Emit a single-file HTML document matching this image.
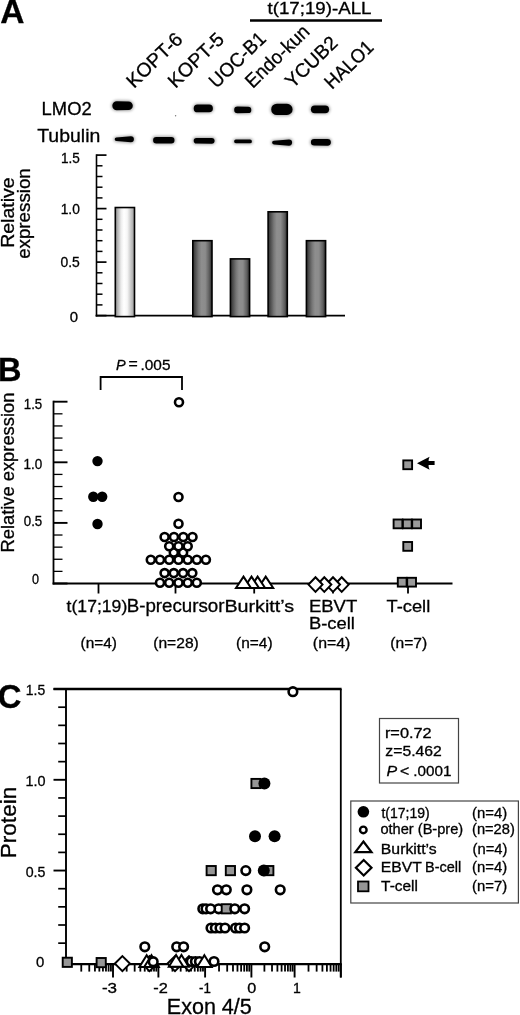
<!DOCTYPE html>
<html><head><meta charset="utf-8"><style>
html,body{margin:0;padding:0;background:#fff;overflow:hidden;}
svg{display:block;will-change:transform;}
text{font-family:"Liberation Sans",sans-serif;stroke:#000;stroke-width:0.3px;}
</style></head><body>
<svg width="520" height="1015" viewBox="0 0 520 1015">
<defs>
<filter id="blur1" x="-20%" y="-50%" width="140%" height="200%"><feGaussianBlur stdDeviation="0.75"/></filter>
<filter id="blur2" x="-30%" y="-80%" width="160%" height="260%"><feGaussianBlur stdDeviation="1.5"/></filter>
<linearGradient id="gl" x1="0" x2="1" y1="0" y2="0">
<stop offset="0" stop-color="#8c8c8c"/><stop offset="0.3" stop-color="#ececec"/><stop offset="0.45" stop-color="#ffffff"/><stop offset="0.62" stop-color="#f6f6f6"/><stop offset="1" stop-color="#9a9a9a"/></linearGradient>
<linearGradient id="gd" x1="0" x2="1" y1="0" y2="0">
<stop offset="0" stop-color="#2e2e2e"/><stop offset="0.3" stop-color="#777"/><stop offset="0.45" stop-color="#8e8e8e"/><stop offset="0.65" stop-color="#8c8c8c"/><stop offset="0.85" stop-color="#606060"/><stop offset="1" stop-color="#2a2a2a"/></linearGradient>
</defs>
<rect width="520" height="1015" fill="#fff"/>
<text x="0.2" y="23.3" font-size="33.5" font-weight="bold" fill="#000">A</text>
<text x="267.5" y="13.5" font-size="16.2" textLength="104" lengthAdjust="spacingAndGlyphs" fill="#000">t(17;19)-ALL</text>
<line x1="250" y1="20.5" x2="382" y2="20.5" stroke="#000" stroke-width="2.4"/>
<text x="0" y="0" font-size="19.5" transform="translate(134.00,88.90) rotate(-44)" fill="#000">KOPT-6</text>
<text x="0" y="0" font-size="19.5" transform="translate(175.50,88.90) rotate(-44)" fill="#000">KOPT-5</text>
<text x="0" y="0" font-size="19.5" textLength="70.5" lengthAdjust="spacingAndGlyphs" transform="translate(216.50,88.90) rotate(-44)" fill="#000">UOC-B1</text>
<text x="0" y="0" font-size="19.5" textLength="80.5" lengthAdjust="spacingAndGlyphs" transform="translate(252.80,88.90) rotate(-44)" fill="#000">Endo-kun</text>
<text x="0" y="0" font-size="19.5" textLength="64.0" lengthAdjust="spacingAndGlyphs" transform="translate(292.80,88.90) rotate(-44)" fill="#000">YCUB2</text>
<text x="0" y="0" font-size="19.5" textLength="59.5" lengthAdjust="spacingAndGlyphs" transform="translate(332.00,90.10) rotate(-44)" fill="#000">HALO1</text>
<text x="41.63" y="115.2" font-size="18.0" textLength="50.05" lengthAdjust="spacingAndGlyphs" fill="#000">LMO2</text>
<text x="37.21" y="142.4" font-size="18.5" textLength="63.11" lengthAdjust="spacingAndGlyphs" fill="#000">Tubulin</text>
<g filter="url(#blur2)" opacity="0.35">
<path d="M116.70 100.30 L128.60 100.50 A5.2 5.2 0 0 1 128.60 110.90 L116.70 111.10 A5.4 5.4 0 0 1 116.70 100.30 Z" fill="#000"/>
<path d="M197.50 103.60 L209.20 103.70 A4.7 4.7 0 0 1 209.20 113.10 L197.50 113.20 A4.8 4.8 0 0 1 197.50 103.60 Z" fill="#000"/>
<path d="M237.40 105.70 L248.20 105.80 A4.1 4.1 0 0 1 248.20 114.00 L237.40 114.10 A4.2 4.2 0 0 1 237.40 105.70 Z" fill="#000"/>
<path d="M276.80 102.80 L287.10 102.90 A6.5 6.5 0 0 1 287.10 115.90 L276.80 116.00 A6.6 6.6 0 0 1 276.80 102.80 Z" fill="#000"/>
<path d="M314.70 104.50 L325.30 104.50 A4.8 4.8 0 0 1 325.30 114.10 L314.70 114.10 A4.8 4.8 0 0 1 314.70 104.50 Z" fill="#000"/>
<path d="M116.30 136.70 L131.00 135.40 A3.9 3.9 0 0 1 131.00 143.20 L116.30 141.90 A2.6 2.6 0 0 1 116.30 136.70 Z" fill="#000"/>
<path d="M156.20 136.10 L171.40 136.10 A4.1 4.1 0 0 1 171.40 144.30 L156.20 144.30 A4.1 4.1 0 0 1 156.20 136.10 Z" fill="#000"/>
<path d="M196.40 137.10 L211.80 137.00 A3.8 3.8 0 0 1 211.80 144.60 L196.40 144.50 A3.7 3.7 0 0 1 196.40 137.10 Z" fill="#000"/>
<path d="M235.80 138.70 L250.10 138.60 A2.8 2.8 0 0 1 250.10 144.20 L235.80 144.10 A2.7 2.7 0 0 1 235.80 138.70 Z" fill="#000"/>
<path d="M273.80 139.90 L289.10 138.60 A4.0 4.0 0 0 1 289.10 146.60 L273.80 145.30 A2.7 2.7 0 0 1 273.80 139.90 Z" fill="#000"/>
<path d="M314.10 138.10 L327.60 138.00 A4.3 4.3 0 0 1 327.60 146.60 L314.10 146.50 A4.2 4.2 0 0 1 314.10 138.10 Z" fill="#000"/>
</g>
<g filter="url(#blur1)">
<path d="M116.80 101.20 L128.50 101.40 A4.3 4.3 0 0 1 128.50 110.00 L116.80 110.20 A4.5 4.5 0 0 1 116.80 101.20 Z" fill="#000"/>
<path d="M197.60 104.50 L209.10 104.60 A3.8000000000000003 3.8000000000000003 0 0 1 209.10 112.20 L197.60 112.30 A3.9 3.9 0 0 1 197.60 104.50 Z" fill="#000"/>
<path d="M237.50 106.60 L248.10 106.70 A3.2 3.2 0 0 1 248.10 113.10 L237.50 113.20 A3.3000000000000003 3.3000000000000003 0 0 1 237.50 106.60 Z" fill="#000"/>
<path d="M276.90 103.70 L287.00 103.80 A5.6 5.6 0 0 1 287.00 115.00 L276.90 115.10 A5.699999999999999 5.699999999999999 0 0 1 276.90 103.70 Z" fill="#000"/>
<path d="M314.80 105.40 L325.20 105.40 A3.9 3.9 0 0 1 325.20 113.20 L314.80 113.20 A3.9 3.9 0 0 1 314.80 105.40 Z" fill="#000"/>
<path d="M116.40 137.60 L130.90 136.30 A3.0 3.0 0 0 1 130.90 142.30 L116.40 141.00 A1.7000000000000002 1.7000000000000002 0 0 1 116.40 137.60 Z" fill="#000"/>
<path d="M156.30 137.00 L171.30 137.00 A3.2 3.2 0 0 1 171.30 143.40 L156.30 143.40 A3.2 3.2 0 0 1 156.30 137.00 Z" fill="#000"/>
<path d="M196.50 138.00 L211.70 137.90 A2.9 2.9 0 0 1 211.70 143.70 L196.50 143.60 A2.8000000000000003 2.8000000000000003 0 0 1 196.50 138.00 Z" fill="#000"/>
<path d="M235.90 139.60 L250.00 139.50 A1.9 1.9 0 0 1 250.00 143.30 L235.90 143.20 A1.7999999999999998 1.7999999999999998 0 0 1 235.90 139.60 Z" fill="#000"/>
<path d="M273.90 140.80 L289.00 139.50 A3.1 3.1 0 0 1 289.00 145.70 L273.90 144.40 A1.7999999999999998 1.7999999999999998 0 0 1 273.90 140.80 Z" fill="#000"/>
<path d="M314.20 139.00 L327.50 138.90 A3.4 3.4 0 0 1 327.50 145.70 L314.20 145.60 A3.3000000000000003 3.3000000000000003 0 0 1 314.20 139.00 Z" fill="#000"/>
</g>
<circle cx="175.6" cy="115.7" r="0.7" fill="#777"/>
<line x1="96.5" y1="154.3" x2="96.5" y2="316.6" stroke="#000" stroke-width="1.6"/>
<line x1="96.5" y1="315.6" x2="106.5" y2="315.6" stroke="#000" stroke-width="1.7"/>
<line x1="96.5" y1="304.90000000000003" x2="102.5" y2="304.90000000000003" stroke="#000" stroke-width="1.5"/>
<line x1="96.5" y1="294.20000000000005" x2="102.5" y2="294.20000000000005" stroke="#000" stroke-width="1.5"/>
<line x1="96.5" y1="283.5" x2="102.5" y2="283.5" stroke="#000" stroke-width="1.5"/>
<line x1="96.5" y1="272.8" x2="102.5" y2="272.8" stroke="#000" stroke-width="1.5"/>
<line x1="96.5" y1="262.1" x2="106.5" y2="262.1" stroke="#000" stroke-width="1.7"/>
<line x1="96.5" y1="251.40000000000003" x2="102.5" y2="251.40000000000003" stroke="#000" stroke-width="1.5"/>
<line x1="96.5" y1="240.70000000000002" x2="102.5" y2="240.70000000000002" stroke="#000" stroke-width="1.5"/>
<line x1="96.5" y1="230.0" x2="102.5" y2="230.0" stroke="#000" stroke-width="1.5"/>
<line x1="96.5" y1="219.3" x2="102.5" y2="219.3" stroke="#000" stroke-width="1.5"/>
<line x1="96.5" y1="208.60000000000002" x2="106.5" y2="208.60000000000002" stroke="#000" stroke-width="1.7"/>
<line x1="96.5" y1="197.90000000000003" x2="102.5" y2="197.90000000000003" stroke="#000" stroke-width="1.5"/>
<line x1="96.5" y1="187.20000000000002" x2="102.5" y2="187.20000000000002" stroke="#000" stroke-width="1.5"/>
<line x1="96.5" y1="176.50000000000003" x2="102.5" y2="176.50000000000003" stroke="#000" stroke-width="1.5"/>
<line x1="96.5" y1="165.8" x2="102.5" y2="165.8" stroke="#000" stroke-width="1.5"/>
<line x1="96.5" y1="155.10000000000002" x2="106.5" y2="155.10000000000002" stroke="#000" stroke-width="1.7"/>
<line x1="95.6" y1="315.6" x2="345" y2="315.6" stroke="#000" stroke-width="1.8"/>
<text x="60.98" y="162.8" font-size="14" textLength="18.86" lengthAdjust="spacingAndGlyphs" fill="#000">1.5</text>
<text x="60.66" y="214.4" font-size="14" textLength="19.19" lengthAdjust="spacingAndGlyphs" fill="#000">1.0</text>
<text x="60.54" y="267" font-size="14" textLength="19.31" lengthAdjust="spacingAndGlyphs" fill="#000">0.5</text>
<text x="69.7" y="321.9" font-size="14" textLength="8.31" lengthAdjust="spacingAndGlyphs" fill="#000">0</text>
<text x="0" y="0" font-size="18.6" textLength="70.5" lengthAdjust="spacingAndGlyphs" transform="translate(14.0,247.86) rotate(-90)">Relative</text>
<text x="0" y="0" font-size="18.6" textLength="90.58" lengthAdjust="spacingAndGlyphs" transform="translate(29.6,258.84) rotate(-90)">expression</text>
<rect x="115.30000000000001" y="207.53000000000003" width="19.2" height="109.07" fill="url(#gl)" stroke="#000" stroke-width="1.6"/>
<rect x="192.8" y="240.70000000000005" width="19.2" height="75.89999999999998" fill="url(#gd)" stroke="#000" stroke-width="1.6"/>
<rect x="230.4" y="258.89000000000004" width="19.2" height="57.70999999999998" fill="url(#gd)" stroke="#000" stroke-width="1.6"/>
<rect x="268.09999999999997" y="211.81000000000003" width="19.2" height="104.78999999999999" fill="url(#gd)" stroke="#000" stroke-width="1.6"/>
<rect x="306.4" y="240.70000000000005" width="19.2" height="75.89999999999998" fill="url(#gd)" stroke="#000" stroke-width="1.6"/>
<text x="-2" y="380.7" font-size="32.5" font-weight="bold" fill="#000">B</text>
<text x="116.06" y="369.5" font-size="14.5" font-style="italic" fill="#000">P</text>
<text x="128.61" y="368.5" font-size="14.5" textLength="9.27" lengthAdjust="spacingAndGlyphs" fill="#000">=</text>
<text x="140.52" y="369.5" font-size="14.5" textLength="29.92" lengthAdjust="spacingAndGlyphs" fill="#000">.005</text>
<path d="M100.6 390 V377 H182 V390" fill="none" stroke="#000" stroke-width="1.8"/>
<line x1="53.5" y1="400.7" x2="53.5" y2="584.5" stroke="#000" stroke-width="1.8"/>
<line x1="53.5" y1="583.5" x2="67.5" y2="583.5" stroke="#000" stroke-width="1.9"/>
<line x1="53.5" y1="571.38" x2="62.5" y2="571.38" stroke="#000" stroke-width="1.3"/>
<line x1="53.5" y1="559.26" x2="62.5" y2="559.26" stroke="#000" stroke-width="1.3"/>
<line x1="53.5" y1="547.14" x2="62.5" y2="547.14" stroke="#000" stroke-width="1.3"/>
<line x1="53.5" y1="535.02" x2="62.5" y2="535.02" stroke="#000" stroke-width="1.3"/>
<line x1="53.5" y1="522.9" x2="67.5" y2="522.9" stroke="#000" stroke-width="1.9"/>
<line x1="53.5" y1="510.78" x2="62.5" y2="510.78" stroke="#000" stroke-width="1.3"/>
<line x1="53.5" y1="498.65999999999997" x2="62.5" y2="498.65999999999997" stroke="#000" stroke-width="1.3"/>
<line x1="53.5" y1="486.53999999999996" x2="62.5" y2="486.53999999999996" stroke="#000" stroke-width="1.3"/>
<line x1="53.5" y1="474.42" x2="62.5" y2="474.42" stroke="#000" stroke-width="1.3"/>
<line x1="53.5" y1="462.3" x2="67.5" y2="462.3" stroke="#000" stroke-width="1.9"/>
<line x1="53.5" y1="450.17999999999995" x2="62.5" y2="450.17999999999995" stroke="#000" stroke-width="1.3"/>
<line x1="53.5" y1="438.05999999999995" x2="62.5" y2="438.05999999999995" stroke="#000" stroke-width="1.3"/>
<line x1="53.5" y1="425.94" x2="62.5" y2="425.94" stroke="#000" stroke-width="1.3"/>
<line x1="53.5" y1="413.82" x2="62.5" y2="413.82" stroke="#000" stroke-width="1.3"/>
<line x1="53.5" y1="401.7" x2="67.5" y2="401.7" stroke="#000" stroke-width="1.9"/>
<line x1="52.6" y1="583.5" x2="452.5" y2="583.5" stroke="#000" stroke-width="1.8"/>
<text x="23.81" y="409.4" font-size="14" textLength="18.43" lengthAdjust="spacingAndGlyphs" fill="#000">1.5</text>
<text x="23.49" y="468.5" font-size="14" textLength="18.75" lengthAdjust="spacingAndGlyphs" fill="#000">1.0</text>
<text x="23.77" y="525.6" font-size="14" textLength="18.46" lengthAdjust="spacingAndGlyphs" fill="#000">0.5</text>
<text x="31.99" y="584.2" font-size="14" textLength="7.03" lengthAdjust="spacingAndGlyphs" fill="#000">0</text>
<text x="0" y="0" font-size="18.3" textLength="159.79" lengthAdjust="spacingAndGlyphs" transform="translate(14.4,552.46) rotate(-90)">Relative expression</text>
<line x1="98.5" y1="583.5" x2="98.5" y2="593.5" stroke="#000" stroke-width="1.8"/>
<line x1="175.5" y1="583.5" x2="175.5" y2="593.5" stroke="#000" stroke-width="1.8"/>
<line x1="254.2" y1="583.5" x2="254.2" y2="593.5" stroke="#000" stroke-width="1.8"/>
<line x1="333" y1="583.5" x2="333" y2="593.5" stroke="#000" stroke-width="1.8"/>
<line x1="408" y1="583.5" x2="408" y2="593.5" stroke="#000" stroke-width="1.8"/>
<circle cx="97.5" cy="461.1" r="5.2" fill="#000"/>
<circle cx="93.3" cy="496.7" r="5.2" fill="#000"/>
<circle cx="102.2" cy="496.7" r="5.2" fill="#000"/>
<circle cx="97.5" cy="524.0" r="5.2" fill="#000"/>
<circle cx="179" cy="402.3" r="4.0" fill="#fff" stroke="#000" stroke-width="2.6"/>
<circle cx="178.5" cy="497" r="4.0" fill="#fff" stroke="#000" stroke-width="2.6"/>
<circle cx="178.5" cy="523.8" r="4.0" fill="#fff" stroke="#000" stroke-width="2.6"/>
<circle cx="164.6" cy="537" r="4.0" fill="#fff" stroke="#000" stroke-width="2.6"/>
<circle cx="174" cy="537" r="4.0" fill="#fff" stroke="#000" stroke-width="2.6"/>
<circle cx="183.3" cy="537" r="4.0" fill="#fff" stroke="#000" stroke-width="2.6"/>
<circle cx="192.5" cy="537" r="4.0" fill="#fff" stroke="#000" stroke-width="2.6"/>
<circle cx="173.8" cy="552.5" r="4.0" fill="#fff" stroke="#000" stroke-width="2.6"/>
<circle cx="183.1" cy="552.5" r="4.0" fill="#fff" stroke="#000" stroke-width="2.6"/>
<circle cx="169.2" cy="546.3" r="4.0" fill="#fff" stroke="#000" stroke-width="2.6"/>
<circle cx="178.5" cy="546.3" r="4.0" fill="#fff" stroke="#000" stroke-width="2.6"/>
<circle cx="187.7" cy="546.3" r="4.0" fill="#fff" stroke="#000" stroke-width="2.6"/>
<circle cx="150.8" cy="559.7" r="4.0" fill="#fff" stroke="#000" stroke-width="2.6"/>
<circle cx="160" cy="559.7" r="4.0" fill="#fff" stroke="#000" stroke-width="2.6"/>
<circle cx="169.2" cy="559.7" r="4.0" fill="#fff" stroke="#000" stroke-width="2.6"/>
<circle cx="178.5" cy="559.7" r="4.0" fill="#fff" stroke="#000" stroke-width="2.6"/>
<circle cx="187.7" cy="559.7" r="4.0" fill="#fff" stroke="#000" stroke-width="2.6"/>
<circle cx="196.9" cy="559.7" r="4.0" fill="#fff" stroke="#000" stroke-width="2.6"/>
<circle cx="205.9" cy="559.7" r="4.0" fill="#fff" stroke="#000" stroke-width="2.6"/>
<circle cx="164.6" cy="573.1" r="4.0" fill="#fff" stroke="#000" stroke-width="2.6"/>
<circle cx="173.8" cy="573.1" r="4.0" fill="#fff" stroke="#000" stroke-width="2.6"/>
<circle cx="183.1" cy="573.1" r="4.0" fill="#fff" stroke="#000" stroke-width="2.6"/>
<circle cx="192.3" cy="573.1" r="4.0" fill="#fff" stroke="#000" stroke-width="2.6"/>
<circle cx="160" cy="582.8" r="4.0" fill="#fff" stroke="#000" stroke-width="2.6"/>
<circle cx="169.2" cy="582.8" r="4.0" fill="#fff" stroke="#000" stroke-width="2.6"/>
<circle cx="178.5" cy="582.8" r="4.0" fill="#fff" stroke="#000" stroke-width="2.6"/>
<circle cx="187.7" cy="582.8" r="4.0" fill="#fff" stroke="#000" stroke-width="2.6"/>
<circle cx="196.8" cy="582.8" r="4.0" fill="#fff" stroke="#000" stroke-width="2.6"/>
<path d="M265.7 576.6 L273.2 588 L258.2 588 Z" fill="#fff" stroke="#000" stroke-width="2" stroke-linejoin="miter"/>
<path d="M257.6 576.6 L265.1 588 L250.10000000000002 588 Z" fill="#fff" stroke="#000" stroke-width="2" stroke-linejoin="miter"/>
<path d="M251.5 576.6 L259.0 588 L244.0 588 Z" fill="#fff" stroke="#000" stroke-width="2" stroke-linejoin="miter"/>
<path d="M243.5 576.6 L251.0 588 L236.0 588 Z" fill="#fff" stroke="#000" stroke-width="2" stroke-linejoin="miter"/>
<path d="M341.7 577.3 L348.7 584.6 L341.7 591.9 L334.7 584.6 Z" fill="#fff" stroke="#000" stroke-width="2"/>
<path d="M333 577.3 L340 584.6 L333 591.9 L326 584.6 Z" fill="#fff" stroke="#000" stroke-width="2"/>
<path d="M324.3 577.3 L331.3 584.6 L324.3 591.9 L317.3 584.6 Z" fill="#fff" stroke="#000" stroke-width="2"/>
<path d="M315.5 577.3 L322.5 584.6 L315.5 591.9 L308.5 584.6 Z" fill="#fff" stroke="#000" stroke-width="2"/>
<rect x="403.3" y="460.40000000000003" width="8.8" height="8.8" fill="#9a9a9a" stroke="#000" stroke-width="1.9"/>
<rect x="393.6" y="519.5" width="8.8" height="8.8" fill="#9a9a9a" stroke="#000" stroke-width="1.9"/>
<rect x="402.90000000000003" y="519.5" width="8.8" height="8.8" fill="#9a9a9a" stroke="#000" stroke-width="1.9"/>
<rect x="412.20000000000005" y="519.5" width="8.8" height="8.8" fill="#9a9a9a" stroke="#000" stroke-width="1.9"/>
<rect x="403.3" y="542.0" width="8.8" height="8.8" fill="#9a9a9a" stroke="#000" stroke-width="1.9"/>
<rect x="397.8" y="577.8000000000001" width="8.8" height="8.8" fill="#9a9a9a" stroke="#000" stroke-width="1.9"/>
<rect x="407.20000000000005" y="577.8000000000001" width="8.8" height="8.8" fill="#9a9a9a" stroke="#000" stroke-width="1.9"/>
<path d="M417 463.2 L429.6 456.7 Q428.2 459.5 428.6 461.1 L434.6 461.1 L434.6 465.1 L428.6 465.1 Q428.2 467 429.6 469.7 Z" fill="#000"/>
<text x="66.64" y="612.3" font-size="17.2" textLength="60.64" lengthAdjust="spacingAndGlyphs" fill="#000">t(17;19)</text>
<text x="126.7" y="612.3" font-size="17.5" textLength="97.85" lengthAdjust="spacingAndGlyphs" fill="#000">B-precursor</text>
<text x="224.42" y="612" font-size="17.3" textLength="69.83" lengthAdjust="spacingAndGlyphs" fill="#000">Burkitt’s</text>
<text x="308.92" y="611.5" font-size="17.3" textLength="48.39" lengthAdjust="spacingAndGlyphs" fill="#000">EBVT</text>
<text x="308.93" y="629.3" font-size="17.3" textLength="45.98" lengthAdjust="spacingAndGlyphs" fill="#000">B-cell</text>
<text x="386.53" y="612.3" font-size="17.3" textLength="43.73" lengthAdjust="spacingAndGlyphs" fill="#000">T-cell</text>
<text x="80.58" y="648.1" font-size="14.8" textLength="36.39" lengthAdjust="spacingAndGlyphs" fill="#000">(n=4)</text>
<text x="153.26" y="648.1" font-size="14.8" textLength="45.53" lengthAdjust="spacingAndGlyphs" fill="#000">(n=28)</text>
<text x="236.07" y="648.1" font-size="14.8" textLength="36.49" lengthAdjust="spacingAndGlyphs" fill="#000">(n=4)</text>
<text x="312.85" y="648.1" font-size="14.8" textLength="37.55" lengthAdjust="spacingAndGlyphs" fill="#000">(n=4)</text>
<text x="390.37" y="648.1" font-size="14.8" textLength="36.81" lengthAdjust="spacingAndGlyphs" fill="#000">(n=7)</text>
<text x="-2.3" y="707.6" font-size="32.8" font-weight="bold" fill="#000">C</text>
<line x1="66" y1="689.05" x2="66" y2="964.5" stroke="#000" stroke-width="1.9"/>
<line x1="53.5" y1="689.05" x2="341.6" y2="689.05" stroke="#000" stroke-width="2.4"/>
<line x1="340.8" y1="689.05" x2="340.8" y2="977.5" stroke="#000" stroke-width="1.8"/>
<line x1="58.2" y1="943.15" x2="66" y2="943.15" stroke="#000" stroke-width="1.7"/>
<line x1="58.2" y1="925.0" x2="66" y2="925.0" stroke="#000" stroke-width="1.7"/>
<line x1="58.2" y1="906.8499999999999" x2="66" y2="906.8499999999999" stroke="#000" stroke-width="1.7"/>
<line x1="58.2" y1="888.6999999999999" x2="66" y2="888.6999999999999" stroke="#000" stroke-width="1.7"/>
<line x1="53.5" y1="870.55" x2="66" y2="870.55" stroke="#000" stroke-width="1.9"/>
<line x1="58.2" y1="852.4" x2="66" y2="852.4" stroke="#000" stroke-width="1.7"/>
<line x1="58.2" y1="834.25" x2="66" y2="834.25" stroke="#000" stroke-width="1.7"/>
<line x1="58.2" y1="816.0999999999999" x2="66" y2="816.0999999999999" stroke="#000" stroke-width="1.7"/>
<line x1="58.2" y1="797.9499999999999" x2="66" y2="797.9499999999999" stroke="#000" stroke-width="1.7"/>
<line x1="53.5" y1="779.8" x2="66" y2="779.8" stroke="#000" stroke-width="1.9"/>
<line x1="58.2" y1="761.65" x2="66" y2="761.65" stroke="#000" stroke-width="1.7"/>
<line x1="58.2" y1="743.4999999999999" x2="66" y2="743.4999999999999" stroke="#000" stroke-width="1.7"/>
<line x1="58.2" y1="725.3499999999999" x2="66" y2="725.3499999999999" stroke="#000" stroke-width="1.7"/>
<line x1="58.2" y1="707.1999999999999" x2="66" y2="707.1999999999999" stroke="#000" stroke-width="1.7"/>
<line x1="53.5" y1="689.05" x2="66" y2="689.05" stroke="#000" stroke-width="1.9"/>
<text x="25.75" y="695.1" font-size="14.6" textLength="19.41" lengthAdjust="spacingAndGlyphs" fill="#000">1.5</text>
<text x="25.42" y="786.2" font-size="14.6" textLength="20.06" lengthAdjust="spacingAndGlyphs" fill="#000">1.0</text>
<text x="25.73" y="877.4" font-size="14.6" textLength="19.74" lengthAdjust="spacingAndGlyphs" fill="#000">0.5</text>
<text x="36.0" y="967.4" font-size="14.6" textLength="8.31" lengthAdjust="spacingAndGlyphs" fill="#000">0</text>
<text x="0" y="0" font-size="22.6" transform="translate(16,858.3) rotate(-90)" fill="#000">Protein</text>
<line x1="65.1" y1="964.1" x2="341.7" y2="964.1" stroke="#000" stroke-width="2.3"/>
<line x1="81.26676180314475" y1="964" x2="81.26676180314475" y2="971.6" stroke="#000" stroke-width="1.8"/>
<line x1="89.26130496427267" y1="964" x2="89.26130496427267" y2="971.6" stroke="#000" stroke-width="1.8"/>
<line x1="94.9335236062895" y1="964" x2="94.9335236062895" y2="971.6" stroke="#000" stroke-width="1.8"/>
<line x1="99.33323819685526" y1="964" x2="99.33323819685526" y2="971.6" stroke="#000" stroke-width="1.8"/>
<line x1="102.92806676741742" y1="964" x2="102.92806676741742" y2="971.6" stroke="#000" stroke-width="1.8"/>
<line x1="105.96745101664726" y1="964" x2="105.96745101664726" y2="971.6" stroke="#000" stroke-width="1.8"/>
<line x1="108.60028540943424" y1="964" x2="108.60028540943424" y2="971.6" stroke="#000" stroke-width="1.8"/>
<line x1="110.92260992854534" y1="964" x2="110.92260992854534" y2="971.6" stroke="#000" stroke-width="1.8"/>
<line x1="126.66676180314475" y1="964" x2="126.66676180314475" y2="971.6" stroke="#000" stroke-width="1.8"/>
<line x1="134.6613049642727" y1="964" x2="134.6613049642727" y2="971.6" stroke="#000" stroke-width="1.8"/>
<line x1="140.3335236062895" y1="964" x2="140.3335236062895" y2="971.6" stroke="#000" stroke-width="1.8"/>
<line x1="144.73323819685527" y1="964" x2="144.73323819685527" y2="971.6" stroke="#000" stroke-width="1.8"/>
<line x1="148.32806676741743" y1="964" x2="148.32806676741743" y2="971.6" stroke="#000" stroke-width="1.8"/>
<line x1="151.36745101664727" y1="964" x2="151.36745101664727" y2="971.6" stroke="#000" stroke-width="1.8"/>
<line x1="154.00028540943424" y1="964" x2="154.00028540943424" y2="971.6" stroke="#000" stroke-width="1.8"/>
<line x1="156.32260992854535" y1="964" x2="156.32260992854535" y2="971.6" stroke="#000" stroke-width="1.8"/>
<line x1="172.45810079750794" y1="964" x2="172.45810079750794" y2="971.6" stroke="#000" stroke-width="1.8"/>
<line x1="180.68156259540822" y1="964" x2="180.68156259540822" y2="971.6" stroke="#000" stroke-width="1.8"/>
<line x1="186.51620159501584" y1="964" x2="186.51620159501584" y2="971.6" stroke="#000" stroke-width="1.8"/>
<line x1="191.04189920249206" y1="964" x2="191.04189920249206" y2="971.6" stroke="#000" stroke-width="1.8"/>
<line x1="194.73966339291616" y1="964" x2="194.73966339291616" y2="971.6" stroke="#000" stroke-width="1.8"/>
<line x1="197.8660784686658" y1="964" x2="197.8660784686658" y2="971.6" stroke="#000" stroke-width="1.8"/>
<line x1="200.57430239252375" y1="964" x2="200.57430239252375" y2="971.6" stroke="#000" stroke-width="1.8"/>
<line x1="202.96312519081647" y1="964" x2="202.96312519081647" y2="971.6" stroke="#000" stroke-width="1.8"/>
<line x1="219.03768879924232" y1="964" x2="219.03768879924232" y2="971.6" stroke="#000" stroke-width="1.8"/>
<line x1="227.19071409352037" y1="964" x2="227.19071409352037" y2="971.6" stroke="#000" stroke-width="1.8"/>
<line x1="232.97537759848467" y1="964" x2="232.97537759848467" y2="971.6" stroke="#000" stroke-width="1.8"/>
<line x1="237.46231120075768" y1="964" x2="237.46231120075768" y2="971.6" stroke="#000" stroke-width="1.8"/>
<line x1="241.1284028927627" y1="964" x2="241.1284028927627" y2="971.6" stroke="#000" stroke-width="1.8"/>
<line x1="244.2280392526601" y1="964" x2="244.2280392526601" y2="971.6" stroke="#000" stroke-width="1.8"/>
<line x1="246.913066397727" y1="964" x2="246.913066397727" y2="971.6" stroke="#000" stroke-width="1.8"/>
<line x1="249.28142818704075" y1="964" x2="249.28142818704075" y2="971.6" stroke="#000" stroke-width="1.8"/>
<line x1="264.404495812684" y1="964" x2="264.404495812684" y2="971.6" stroke="#000" stroke-width="1.8"/>
<line x1="272.01163820388945" y1="964" x2="272.01163820388945" y2="971.6" stroke="#000" stroke-width="1.8"/>
<line x1="277.408991625368" y1="964" x2="277.408991625368" y2="971.6" stroke="#000" stroke-width="1.8"/>
<line x1="281.595504187316" y1="964" x2="281.595504187316" y2="971.6" stroke="#000" stroke-width="1.8"/>
<line x1="285.0161340165734" y1="964" x2="285.0161340165734" y2="971.6" stroke="#000" stroke-width="1.8"/>
<line x1="287.9082353286159" y1="964" x2="287.9082353286159" y2="971.6" stroke="#000" stroke-width="1.8"/>
<line x1="290.41348743805196" y1="964" x2="290.41348743805196" y2="971.6" stroke="#000" stroke-width="1.8"/>
<line x1="292.62327640777886" y1="964" x2="292.62327640777886" y2="971.6" stroke="#000" stroke-width="1.8"/>
<line x1="308.50758579967595" y1="964" x2="308.50758579967595" y2="971.6" stroke="#000" stroke-width="1.8"/>
<line x1="316.64300196804845" y1="964" x2="316.64300196804845" y2="971.6" stroke="#000" stroke-width="1.8"/>
<line x1="322.4151715993519" y1="964" x2="322.4151715993519" y2="971.6" stroke="#000" stroke-width="1.8"/>
<line x1="326.8924142003241" y1="964" x2="326.8924142003241" y2="971.6" stroke="#000" stroke-width="1.8"/>
<line x1="330.5505877677243" y1="964" x2="330.5505877677243" y2="971.6" stroke="#000" stroke-width="1.8"/>
<line x1="333.6435294486587" y1="964" x2="333.6435294486587" y2="971.6" stroke="#000" stroke-width="1.8"/>
<line x1="336.3227573990278" y1="964" x2="336.3227573990278" y2="971.6" stroke="#000" stroke-width="1.8"/>
<line x1="338.6860039360968" y1="964" x2="338.6860039360968" y2="971.6" stroke="#000" stroke-width="1.8"/>
<line x1="113.0" y1="964" x2="113.0" y2="977.5" stroke="#000" stroke-width="1.9"/>
<line x1="158.4" y1="964" x2="158.4" y2="977.5" stroke="#000" stroke-width="1.9"/>
<line x1="205.1" y1="964" x2="205.1" y2="977.5" stroke="#000" stroke-width="1.9"/>
<line x1="251.4" y1="964" x2="251.4" y2="977.5" stroke="#000" stroke-width="1.9"/>
<line x1="294.6" y1="964" x2="294.6" y2="977.5" stroke="#000" stroke-width="1.9"/>
<line x1="340.8" y1="964" x2="340.8" y2="977.5" stroke="#000" stroke-width="1.9"/>
<text x="101.94" y="993.4" font-size="14" textLength="15.12" lengthAdjust="spacingAndGlyphs" fill="#000">-3</text>
<text x="153.36" y="993.4" font-size="14" textLength="14.54" lengthAdjust="spacingAndGlyphs" fill="#000">-2</text>
<text x="199.0" y="993.4" font-size="14" textLength="11.86" lengthAdjust="spacingAndGlyphs" fill="#000">-1</text>
<text x="247.15" y="993.4" font-size="14" textLength="9.02" lengthAdjust="spacingAndGlyphs" fill="#000">0</text>
<text x="293.04" y="993.4" font-size="14" fill="#000">1</text>
<text x="166.78" y="1014.4" font-size="21.2" textLength="85.04" lengthAdjust="spacingAndGlyphs" fill="#000">Exon 4/5</text>
<rect x="379.5" y="718.5" width="79" height="64.5" fill="#fff" stroke="#444" stroke-width="1.2"/>
<text x="384.94" y="737.5" font-size="14.2" textLength="46.73" lengthAdjust="spacingAndGlyphs" fill="#000">r=0.72</text>
<text x="385.37" y="756.1" font-size="14.2" textLength="56.44" lengthAdjust="spacingAndGlyphs" fill="#000">z=5.462</text>
<text x="386.42" y="775.8" font-size="15" font-style="italic" textLength="10.69" lengthAdjust="spacingAndGlyphs" fill="#000">P</text>
<text x="400.01" y="775.8" font-size="14.2" textLength="9.27" lengthAdjust="spacingAndGlyphs" fill="#000">&lt;</text>
<text x="413.23" y="775.8" font-size="14.2" textLength="38.17" lengthAdjust="spacingAndGlyphs" fill="#000">.0001</text>
<rect x="350.8" y="801" width="167.6" height="102" fill="#fff" stroke="#444" stroke-width="1.2"/>
<circle cx="363.4" cy="811.8" r="5.8" fill="#000"/>
<circle cx="363.3" cy="829.9" r="3.3" fill="#fff" stroke="#000" stroke-width="2.4"/>
<path d="M363.4 841.5 L371.5 852.2 L355.3 852.2 Z" fill="#fff" stroke="#000" stroke-width="2.2"/>
<path d="M363.7 860 L371.5 867.7 L363.7 875.5 L355.9 867.7 Z" fill="#fff" stroke="#000" stroke-width="2.2"/>
<rect x="358" y="881.5" width="10.5" height="9.8" fill="#969696" stroke="#000" stroke-width="1.8"/>
<text x="381.49" y="817.5" font-size="13.8" textLength="48.27" lengthAdjust="spacingAndGlyphs" fill="#000">t(17;19)</text>
<text x="472.01" y="817.5" font-size="13.8" textLength="35.12" lengthAdjust="spacingAndGlyphs" fill="#000">(n=4)</text>
<text x="380.42" y="834" font-size="13.8" textLength="82.82" lengthAdjust="spacingAndGlyphs" fill="#000">other (B-pre)</text>
<text x="472.02" y="834" font-size="13.8" textLength="42.81" lengthAdjust="spacingAndGlyphs" fill="#000">(n=28)</text>
<text x="380.84" y="853.7" font-size="13.8" textLength="55.89" lengthAdjust="spacingAndGlyphs" fill="#000">Burkitt’s</text>
<text x="472.62" y="853.7" font-size="13.8" textLength="34.8" lengthAdjust="spacingAndGlyphs" fill="#000">(n=4)</text>
<text x="380.84" y="872.4" font-size="13.8" textLength="41.0" lengthAdjust="spacingAndGlyphs" fill="#000">EBVT</text>
<text x="472.01" y="872.4" font-size="13.8" textLength="35.12" lengthAdjust="spacingAndGlyphs" fill="#000">(n=4)</text>
<text x="381.09" y="891.4" font-size="13.8" textLength="36.88" lengthAdjust="spacingAndGlyphs" fill="#000">T-cell</text>
<text x="472.01" y="891.4" font-size="13.8" textLength="35.12" lengthAdjust="spacingAndGlyphs" fill="#000">(n=7)</text>
<text x="425.04" y="872.4" font-size="13.8" textLength="36.21" lengthAdjust="spacingAndGlyphs" fill="#000">B-cell</text>
<circle cx="292.9" cy="691.7" r="4.3" fill="#fff" stroke="#000" stroke-width="2.6"/>
<rect x="251.4" y="778.9" width="9.2" height="9.2" fill="#969696" stroke="#000" stroke-width="1.9"/>
<circle cx="264.4" cy="783.5" r="6" fill="#000"/>
<circle cx="255" cy="836.3" r="6" fill="#000"/>
<circle cx="274.6" cy="836.3" r="6" fill="#000"/>
<rect x="206.6" y="866.0" width="9.2" height="9.2" fill="#969696" stroke="#000" stroke-width="1.9"/>
<rect x="225.8" y="866.0" width="9.2" height="9.2" fill="#969696" stroke="#000" stroke-width="1.9"/>
<circle cx="245.8" cy="870.6" r="4.3" fill="#fff" stroke="#000" stroke-width="2.6"/>
<rect x="264.2" y="866.0" width="9.2" height="9.2" fill="#969696" stroke="#000" stroke-width="1.9"/>
<circle cx="263.8" cy="870.6" r="6" fill="#000"/>
<circle cx="217.5" cy="889.8" r="4.3" fill="#fff" stroke="#000" stroke-width="2.6"/>
<circle cx="226.3" cy="889.8" r="4.3" fill="#fff" stroke="#000" stroke-width="2.6"/>
<circle cx="246.9" cy="889.8" r="4.3" fill="#fff" stroke="#000" stroke-width="2.6"/>
<circle cx="280.2" cy="889.8" r="4.3" fill="#fff" stroke="#000" stroke-width="2.6"/>
<circle cx="218.7" cy="908.8" r="4.3" fill="#fff" stroke="#000" stroke-width="2.6"/>
<circle cx="202.8" cy="908.8" r="4.3" fill="#fff" stroke="#000" stroke-width="2.6"/>
<circle cx="206" cy="908.8" r="4.3" fill="#fff" stroke="#000" stroke-width="2.6"/>
<circle cx="210.6" cy="908.8" r="4.3" fill="#fff" stroke="#000" stroke-width="2.6"/>
<rect x="221.70000000000002" y="904.1999999999999" width="9.2" height="9.2" fill="#969696" stroke="#000" stroke-width="1.9"/>
<circle cx="234.8" cy="908.8" r="4.3" fill="#fff" stroke="#000" stroke-width="2.6"/>
<circle cx="244.6" cy="908.8" r="4.3" fill="#fff" stroke="#000" stroke-width="2.6"/>
<circle cx="211" cy="928" r="4.3" fill="#fff" stroke="#000" stroke-width="2.6"/>
<circle cx="215.3" cy="928" r="4.3" fill="#fff" stroke="#000" stroke-width="2.6"/>
<circle cx="220" cy="928" r="4.3" fill="#fff" stroke="#000" stroke-width="2.6"/>
<circle cx="225" cy="928" r="4.3" fill="#fff" stroke="#000" stroke-width="2.6"/>
<circle cx="235.5" cy="928" r="4.3" fill="#fff" stroke="#000" stroke-width="2.6"/>
<circle cx="239.5" cy="928" r="4.3" fill="#fff" stroke="#000" stroke-width="2.6"/>
<circle cx="244.6" cy="928" r="4.3" fill="#fff" stroke="#000" stroke-width="2.6"/>
<circle cx="144.8" cy="946.8" r="4.3" fill="#fff" stroke="#000" stroke-width="2.6"/>
<circle cx="176.7" cy="946.8" r="4.3" fill="#fff" stroke="#000" stroke-width="2.6"/>
<circle cx="183.6" cy="946.8" r="4.3" fill="#fff" stroke="#000" stroke-width="2.6"/>
<circle cx="264.7" cy="946.8" r="4.3" fill="#fff" stroke="#000" stroke-width="2.6"/>
<rect x="62.699999999999996" y="957.6999999999999" width="9.2" height="9.2" fill="#969696" stroke="#000" stroke-width="1.9"/>
<rect x="96.60000000000001" y="958.0" width="9.2" height="9.2" fill="#969696" stroke="#000" stroke-width="1.9"/>
<path d="M122.4 956.1 L129.9 963.6 L122.4 971.1 L114.9 963.6 Z" fill="#fff" stroke="#000" stroke-width="2"/>
<path d="M149.5 956.1 L157.0 963.6 L149.5 971.1 L142.0 963.6 Z" fill="#fff" stroke="#000" stroke-width="2"/>
<path d="M146.7 955.2 L154.0 967.0 L139.39999999999998 967.0 Z" fill="#fff" stroke="#000" stroke-width="2"/>
<path d="M151.5 955.2 L158.8 967.0 L144.2 967.0 Z" fill="#fff" stroke="#000" stroke-width="2"/>
<circle cx="153.2" cy="961.7" r="4.3" fill="#fff" stroke="#000" stroke-width="2.6"/>
<path d="M175 956.1 L182.5 963.6 L175 971.1 L167.5 963.6 Z" fill="#fff" stroke="#000" stroke-width="2"/>
<path d="M189 956.1 L196.5 963.6 L189 971.1 L181.5 963.6 Z" fill="#fff" stroke="#000" stroke-width="2"/>
<path d="M181.5 955.0 L188.8 966.8 L174.2 966.8 Z" fill="#fff" stroke="#000" stroke-width="2"/>
<path d="M176.1 955.0 L183.4 966.8 L168.79999999999998 966.8 Z" fill="#fff" stroke="#000" stroke-width="2"/>
<circle cx="191.2" cy="961.5" r="4.3" fill="#fff" stroke="#000" stroke-width="2.6"/>
<circle cx="195.4" cy="961.5" r="4.3" fill="#fff" stroke="#000" stroke-width="2.6"/>
<circle cx="199.4" cy="961.5" r="4.3" fill="#fff" stroke="#000" stroke-width="2.6"/>
<path d="M204.4 955.2 L211.70000000000002 967.0 L197.1 967.0 Z" fill="#fff" stroke="#000" stroke-width="2"/>
<circle cx="214" cy="961.5" r="4.3" fill="#fff" stroke="#000" stroke-width="2.6"/>
</svg>
</body></html>
